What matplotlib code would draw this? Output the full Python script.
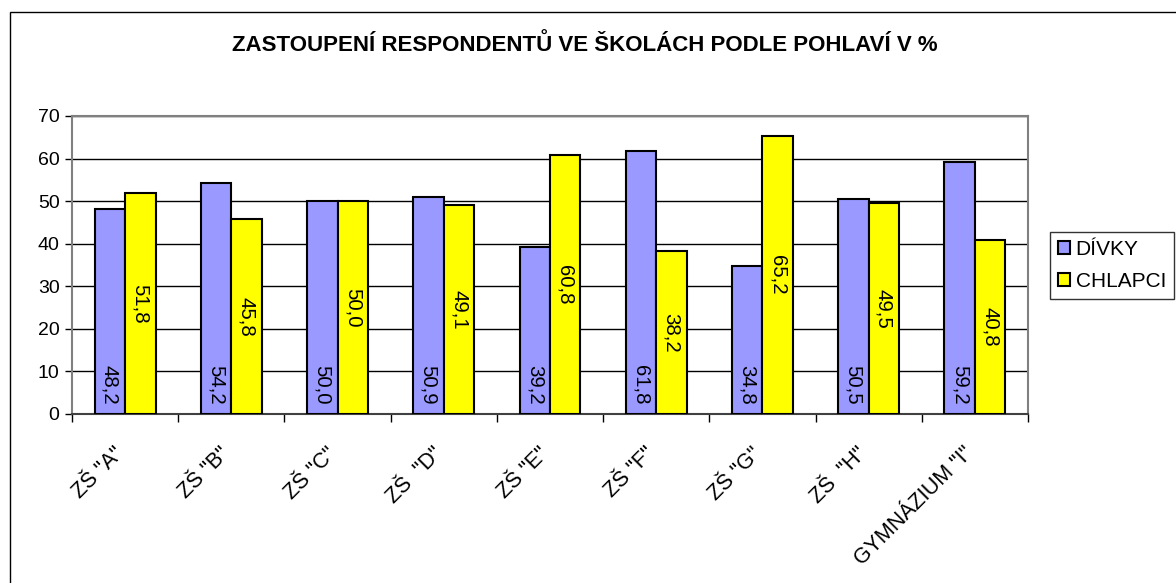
import matplotlib
matplotlib.use("Agg")
import matplotlib.pyplot as plt
import matplotlib.transforms as mtransforms
import numpy as np
from matplotlib.patches import Rectangle

plt.rcParams['font.family'] = ['Liberation Sans', 'DejaVu Sans']

categories = ['ZŠ "A"', 'ZŠ "B"', 'ZŠ "C"', 'ZŠ  "D"', 'ZŠ "E"', 'ZŠ "F"',
              'ZŠ "G"', 'ZŠ  "H"', 'GYMNÁZIUM "I"']
divky = [48.2, 54.2, 50.0, 50.9, 39.2, 61.8, 34.8, 50.5, 59.2]
chlapci = [51.8, 45.8, 50.0, 49.1, 60.8, 38.2, 65.2, 49.5, 40.8]
series_names = ['DÍVKY', 'CHLAPCI']
yticks = [0, 10, 20, 30, 40, 50, 60, 70]
title = 'ZASTOUPENÍ RESPONDENTŮ VE ŠKOLÁCH PODLE POHLAVÍ V %'

W, H = 1176, 583
fig = plt.figure(figsize=(W / 100, H / 100), dpi=100)
fig.patch.set_facecolor('white')

# outer chart border (right/bottom edges fall outside the image)
fig.patches.append(Rectangle((9.5 / W, -0.1), 2.0, 1.1 - 12.5 / H,
                             transform=fig.transFigure, fill=False,
                             edgecolor='black', linewidth=1.0))

left, right, top, bottom = 72, 1028, 116, 414
ax = fig.add_axes([left / W, 1 - bottom / H, (right - left) / W, (bottom - top) / H])

n = len(categories)
x = np.arange(n) + 0.5
bw = 0.287
blue = '#9999FF'
yellow = '#FFFF00'
b1 = ax.bar(x - bw / 2, divky, bw, color=blue, edgecolor='black', linewidth=1.5,
            label=series_names[0], zorder=3)
b2 = ax.bar(x + bw / 2, chlapci, bw, color=yellow, edgecolor='black', linewidth=1.5,
            label=series_names[1], zorder=3)

vfs = 14.7
for xi, v in zip(x, divky):
    ax.annotate(f'{v:.1f}'.replace('.', ','), (xi - bw / 2, 0), xytext=(0, 7),
                textcoords='offset points', rotation=-90, ha='center', va='bottom',
                fontsize=vfs, zorder=4)
for xi, v in zip(x, chlapci):
    ax.text(xi + bw / 2, v / 2, f'{v:.1f}'.replace('.', ','), rotation=-90,
            ha='center', va='center', fontsize=vfs, zorder=4)

ax.set_xlim(0, n)
ax.set_ylim(0, 70)
ax.set_yticks(yticks)
ax.set_yticklabels([str(t) for t in yticks], fontsize=14)
ax.yaxis.grid(True, color='black', linewidth=1.0, zorder=0)
ax.set_axisbelow(True)

ax.set_xticks(np.arange(n + 1))
ax.set_xticklabels([])
ax.set_xticks(x, minor=True)
ax.set_xticklabels(categories, minor=True, rotation=45, ha='right',
                   rotation_mode='anchor', fontsize=15.5)
ax.tick_params(axis='x', which='minor', length=0, pad=21)
ax.tick_params(axis='x', which='major', length=6, width=1, color='black')
ax.tick_params(axis='y', length=5, width=1, color='black', pad=4)
shift = mtransforms.ScaledTranslation(-0.12, 0, fig.dpi_scale_trans)
for lbl in ax.get_xticklabels(minor=True):
    lbl.set_transform(lbl.get_transform() + shift)

for s in ['top', 'right', 'left']:
    ax.spines[s].set_color('#808080')
    ax.spines[s].set_linewidth(1.5)
ax.spines['bottom'].set_color('#404040')
ax.spines['bottom'].set_linewidth(1.5)

fig.text(585 / W, 1 - 45 / H, title, ha='center', va='center',
         fontsize=16, fontweight='bold')

leg = fig.legend(handles=[b1, b2], loc='upper left',
                 bbox_to_anchor=(1050 / W, 1 - 232 / H), borderaxespad=0,
                 fontsize=15, frameon=True, fancybox=False, edgecolor='black',
                 handlelength=0.6, handleheight=0.6, handletextpad=0.25,
                 borderpad=0.38, labelspacing=0.62)
leg.get_frame().set_linewidth(1.0)

fig.savefig('out.png', dpi=100, facecolor='white')
